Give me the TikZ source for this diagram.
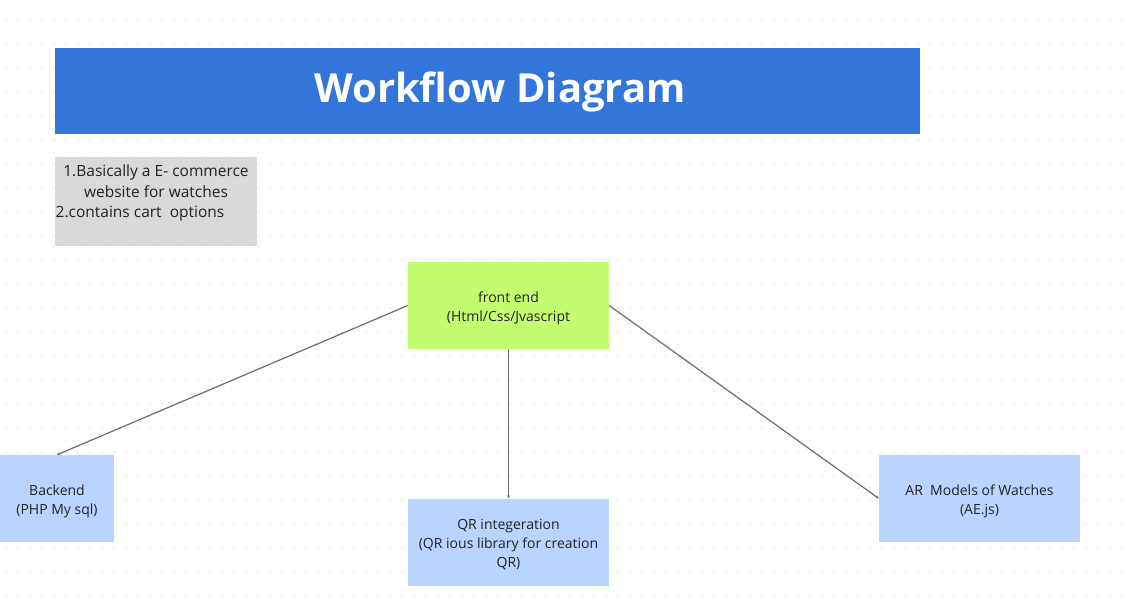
\documentclass[tikz,border=0pt]{standalone}
\usepackage{fontspec}
\setmainfont{Open Sans}
\usetikzlibrary{arrows.meta,positioning}
\definecolor{titleblue}{HTML}{3375D8}
\definecolor{notegray}{HTML}{D9D9D9}
\definecolor{limegreen}{HTML}{C2FE70}
\definecolor{paleblue}{HTML}{B9D5FF}
\definecolor{linegray}{HTML}{6E6E6E}
\definecolor{dotgray}{HTML}{DCDCDC}
\definecolor{inkgray}{HTML}{222222}

\begin{document}
\begin{tikzpicture}[x=1pt,y=-1pt,
  box/.style={fill=paleblue,minimum width=201pt,minimum height=87pt,inner sep=0pt,align=center,text=inkgray,font=\fontsize{14}{19}\selectfont},
  link/.style={draw=linegray,line width=1.2pt,-{Stealth[length=3pt,width=3pt]}}]
  % Canvas with dot grid
  \useasboundingbox (0,0) rectangle (1132,610);
  \fill[white] (0,0) rectangle (1132,610);
  \foreach \i in {0,...,94}
    \foreach \j in {0,...,50}
      \fill[dotgray] (6+12*\i,8+12*\j) circle (0.9pt);

  % Title bar
  \node[fill=titleblue,minimum width=865pt,minimum height=86pt,inner sep=0pt] (titlebar) at (487.5,91) {};
  \node[text=white,font=\fontsize{40}{42}\selectfont\bfseries] (title) at (500,92) {Workflow Diagram};

  % Notes
  \node[fill=notegray,minimum width=202pt,minimum height=89pt,inner sep=0pt] (notebox) at (156,201.5) {};
  \node[align=center,text=inkgray,font=\fontsize{15.5}{20.5}\selectfont] (notes) at (156,193)
    {1.Basically a E- commerce\\website for watches\\2.contains cart~~options\hspace*{32pt}};

  % Front end
  \node[box,fill=limegreen] (front) at (508.5,305.5) {\rule{0pt}{16pt}front end\\(Html/Css/Jvascript};

  % Parts
  \node[box,minimum width=114pt] (backend) at (57,498.5) {\rule{0pt}{16pt}Backend\\(PHP My sql)};
  \node[box] (qr) at (508.5,542) {\rule{0pt}{16pt}QR integeration\\(QR ious library for creation\\QR)};
  \node[box] (ar) at (979.5,498.5) {\rule{0pt}{16pt}AR~~Models of Watches\\(AE.js)};

  % Links
  \draw[link] (front.west) -- (backend.north);
  \draw[link] (front.south) -- (qr.north);
  \draw[link] (front.east) -- (ar.west);
\end{tikzpicture}
\end{document}
